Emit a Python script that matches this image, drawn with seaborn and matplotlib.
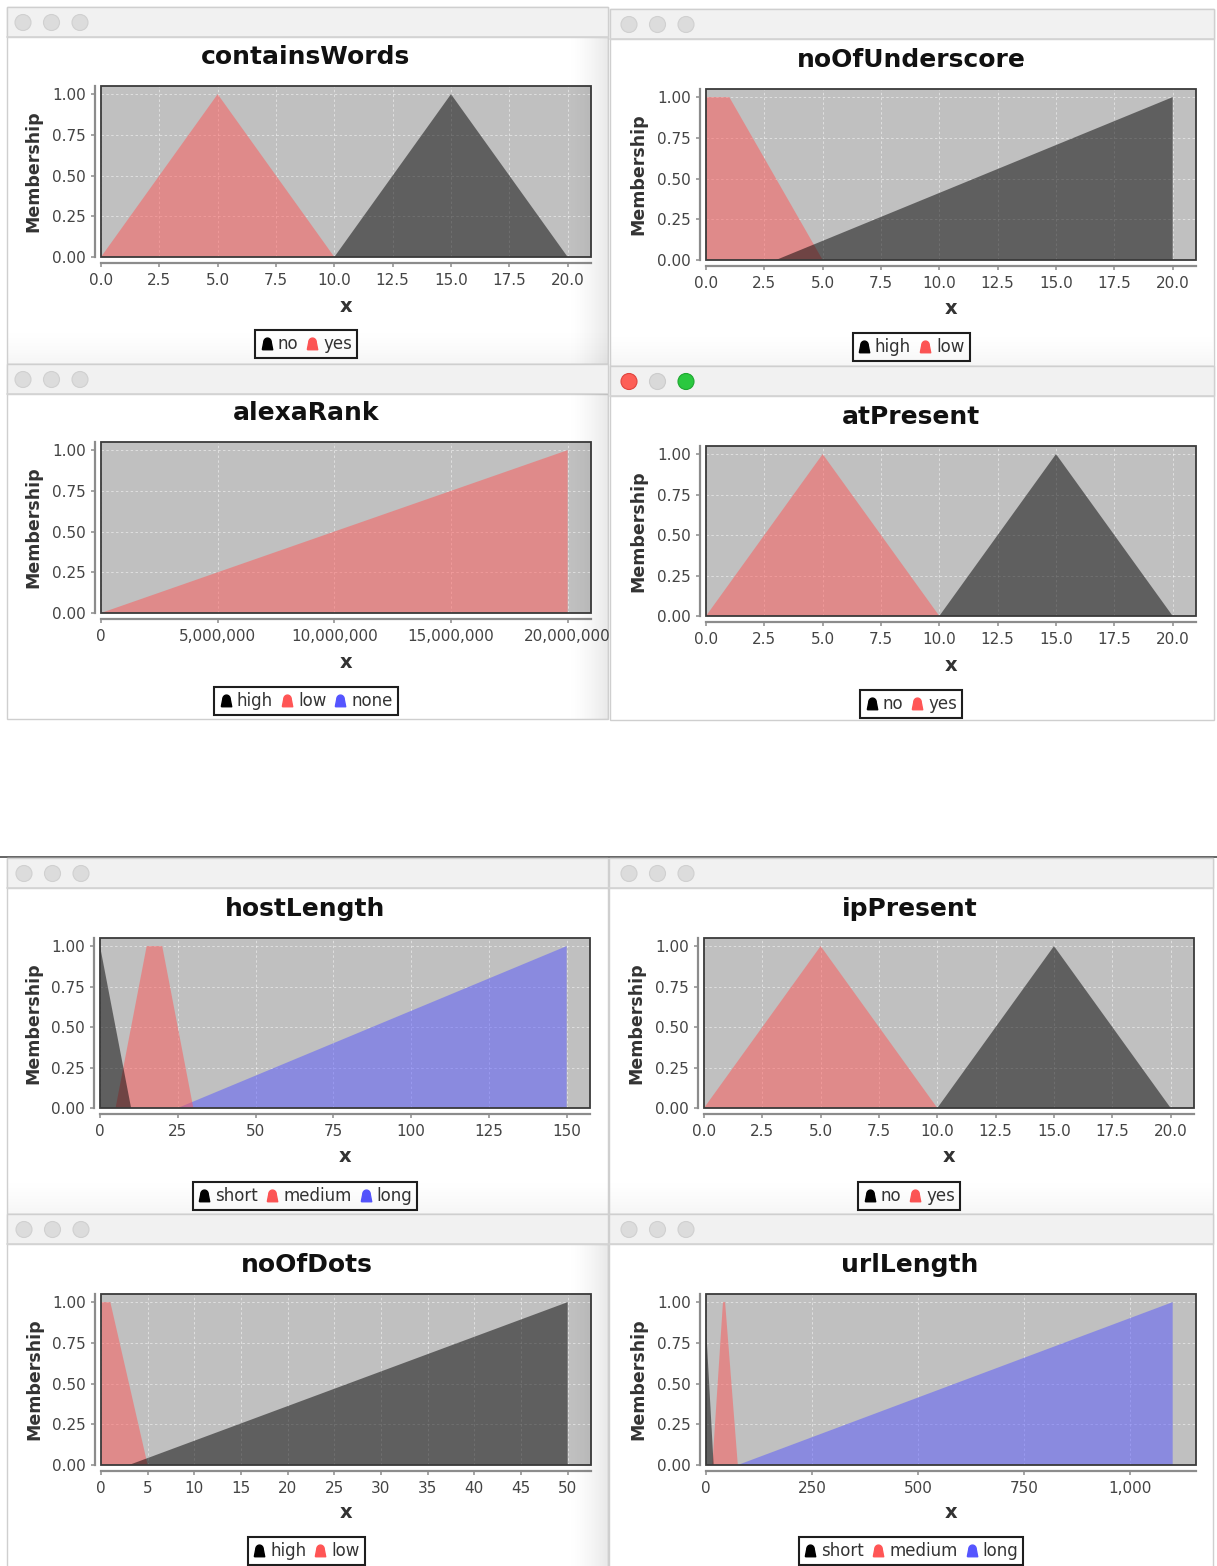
import numpy as np
import matplotlib
matplotlib.use("Agg")
import matplotlib.pyplot as plt
import seaborn as sns
from matplotlib.patches import Rectangle, Ellipse
from matplotlib.lines import Line2D

# ---------------- data ----------------
membership_ticks = [0.0, 0.25, 0.5, 0.75, 1.0]
membership_labels = ["0.00", "0.25", "0.50", "0.75", "1.00"]

containswords_terms = ["no", "yes"]
containswords_no_x = [10, 15, 20]
containswords_no_y = [0, 1, 0]
containswords_yes_x = [0, 5, 10]
containswords_yes_y = [0, 1, 0]
containswords_xticks = [0, 2.5, 5, 7.5, 10, 12.5, 15, 17.5, 20]
containswords_xlabels = ["0.0", "2.5", "5.0", "7.5", "10.0", "12.5", "15.0", "17.5", "20.0"]

underscore_terms = ["high", "low"]
underscore_high_x = [3, 20, 20]
underscore_high_y = [0, 1, 0]
underscore_low_x = [0, 0, 1, 5]
underscore_low_y = [0, 1, 1, 0]

alexarank_terms = ["high", "low", "none"]
alexarank_high_x = []
alexarank_high_y = []
alexarank_low_x = [0, 20000000, 20000000]
alexarank_low_y = [0, 1, 0]
alexarank_none_x = []
alexarank_none_y = []
alexarank_xticks = [0, 5000000, 10000000, 15000000, 20000000]
alexarank_xlabels = ["0", "5,000,000", "10,000,000", "15,000,000", "20,000,000"]

atpresent_terms = ["no", "yes"]
atpresent_no_x = [10, 15, 20]
atpresent_no_y = [0, 1, 0]
atpresent_yes_x = [0, 5, 10]
atpresent_yes_y = [0, 1, 0]

hostlength_terms = ["short", "medium", "long"]
hostlength_short_x = [0, 0, 10]
hostlength_short_y = [0, 1, 0]
hostlength_medium_x = [5, 15, 20, 30]
hostlength_medium_y = [0, 1, 1, 0]
hostlength_long_x = [25, 150, 150]
hostlength_long_y = [0, 1, 0]
hostlength_xticks = [0, 25, 50, 75, 100, 125, 150]
hostlength_xlabels = ["0", "25", "50", "75", "100", "125", "150"]

ippresent_terms = ["no", "yes"]
ippresent_no_x = [10, 15, 20]
ippresent_no_y = [0, 1, 0]
ippresent_yes_x = [0, 5, 10]
ippresent_yes_y = [0, 1, 0]

dots_terms = ["high", "low"]
dots_high_x = [3, 50, 50]
dots_high_y = [0, 1, 0]
dots_low_x = [0, 0, 1, 5]
dots_low_y = [0, 1, 1, 0]
dots_xticks = [0, 5, 10, 15, 20, 25, 30, 35, 40, 45, 50]
dots_xlabels = ["0", "5", "10", "15", "20", "25", "30", "35", "40", "45", "50"]

urllength_terms = ["short", "medium", "long"]
urllength_short_x = [0, 0, 18]
urllength_short_y = [0, 0.85, 0]
urllength_medium_x = [15, 40, 45, 75]
urllength_medium_y = [0, 1, 1, 0]
urllength_long_x = [75, 1100, 1100]
urllength_long_y = [0, 1, 0]
urllength_xticks = [0, 250, 500, 750, 1000]
urllength_xlabels = ["0", "250", "500", "750", "1,000"]

# ---------------- style ----------------
sns.set_theme(style="ticks")
plt.rcParams["font.family"] = ["DejaVu Sans"]

W, H = 1217, 1566
fig = plt.figure(figsize=(W / 100, H / 100), dpi=100)
fig.patch.set_facecolor("white")

TERM_COLORS = ["#000000", "#ff5555", "#5555ff"]
PLOT_BG = "#c0c0c0"


def fr(x0, y0, x1, y1):
    return [x0 / W, 1 - y1 / H, (x1 - x0) / W, (y1 - y0) / H]


def bell_marker():
    t = np.linspace(0, np.pi, 24)
    arc = [(0.36 * np.cos(a), 0.12 + 0.4 * np.sin(a)) for a in t]
    return [(-0.5, -0.6), (0.5, -0.6)] + arc + [(-0.5, -0.6)]


BELL = bell_marker()


def shade(box, orient, amax, z):
    x0, y0, x1, y1 = box
    sax = fig.add_axes(fr(x0, y0, x1, y1), zorder=z)
    sax.set_axis_off()
    n = 64
    a = np.linspace(0, 1, n) ** 1.6 * amax
    if orient == "h":
        img = np.zeros((1, n, 4))
        img[0, :, 3] = a
    else:
        img = np.zeros((n, 1, 4))
        img[:, 0, 3] = a
    sax.imshow(img, aspect="auto", extent=(0, 1, 0, 1), origin="upper",
               interpolation="bilinear")
    sax.set_xlim(0, 1)
    sax.set_ylim(0, 1)


def draw_window(z, box, cx0, focused):
    x0, y0, x1, y1 = box
    fig.patches.append(Rectangle((x0 / W, 1 - y1 / H), (x1 - x0) / W, (y1 - y0) / H,
                                 transform=fig.transFigure, facecolor="white",
                                 edgecolor="#cfcfcf", lw=1, zorder=z))
    tb = 30
    fig.patches.append(Rectangle((x0 / W, 1 - (y0 + tb) / H), (x1 - x0) / W, tb / H,
                                 transform=fig.transFigure, facecolor="#f1f1f1",
                                 edgecolor="#cfcfcf", lw=1, zorder=z + 0.1))
    fig.add_artist(Line2D([x0 / W, x1 / W], [1 - (y0 + tb) / H] * 2,
                          transform=fig.transFigure, color="#d4d4d4", lw=1.2,
                          zorder=z + 0.2))
    cy = y0 + 15.5
    if focused:
        cols = [("#fd5f57", "#e0443e"), ("#d9d9d9", "#cccccc"), ("#2ac83f", "#1ea730")]
    else:
        cols = [("#dcdcdc", "#d0d0d0")] * 3
    for i, (fc, ec) in enumerate(cols):
        cx = cx0 + 28.5 * i
        fig.patches.append(Ellipse((cx / W, 1 - cy / H), 16 / W, 16 / H,
                                   transform=fig.transFigure, facecolor=fc,
                                   edgecolor=ec, lw=0.8, zorder=z + 0.3))


def draw_chart(z, spec):
    px0, py0, px1, py1 = spec["plot"]
    ax = fig.add_axes(fr(px0, py0, px1, py1), zorder=z + 1)
    ax.set_facecolor(PLOT_BG)

    def to_ax(x, y):
        return ((x - px0) / (px1 - px0), (py1 - y) / (py1 - py0))

    n = len(spec["terms"])
    for i in reversed(range(n)):
        xs, ys = spec["xs"][i], spec["ys"][i]
        if len(xs):
            ax.fill(xs, ys, color=TERM_COLORS[i], alpha=0.5, lw=0, zorder=2)

    ax.set_xlim(0, spec["xmax"])
    ax.set_ylim(0, 1.05)
    ax.set_xticks(spec["xticks"])
    ax.set_xticklabels(spec["xlabels"])
    ax.set_yticks(membership_ticks)
    ax.set_yticklabels(membership_labels)
    ax.set_axisbelow(True)
    ax.grid(True, color="white", lw=0.7, ls=(0, (2.5, 2.5)), alpha=0.5)
    sns.despine(ax=ax, offset=4.3)
    for s in ["left", "bottom"]:
        ax.spines[s].set_color("#8c8c8c")
        ax.spines[s].set_linewidth(1.6)
    ax.tick_params(axis="both", colors="#8c8c8c", labelcolor="#444444",
                   labelsize=11, length=3, width=1.1, direction="out")
    ax.tick_params(axis="y", pad=3.5)
    ax.tick_params(axis="x", pad=4.5)
    ax.add_patch(Rectangle((0, 0), 1, 1, transform=ax.transAxes, fill=False,
                           edgecolor="#3a3a3a", lw=1.3, zorder=6, clip_on=False))

    tx, ty = to_ax(*spec["title_pos"])
    ax.text(tx, ty, spec["title"], transform=ax.transAxes, ha="center", va="center",
            fontsize=18, fontweight="bold", color="#111111")
    lx, ly = to_ax(*spec["xlabel_pos"])
    ax.text(lx, ly, "x", transform=ax.transAxes, ha="center", va="center",
            fontsize=14, fontweight="bold", color="#333333")
    yx, _ = to_ax(spec["ylabel_x"], 0)
    ax.text(yx, 0.5, "Membership", transform=ax.transAxes, ha="center", va="center",
            rotation=90, fontsize=12.5, fontweight="bold", color="#333333")

    handles = [Line2D([], [], marker=BELL, color=TERM_COLORS[i], linestyle="None",
                      markersize=9) for i in range(n)]
    gx, gy = to_ax(*spec["legend_pos"])
    leg = ax.legend(handles, spec["terms"], loc="center", bbox_to_anchor=(gx, gy),
                    ncol=n, frameon=True, fancybox=False, edgecolor="#1e1e1e",
                    facecolor="white", framealpha=1, fontsize=12, handlelength=0.8,
                    handletextpad=0.25, columnspacing=0.45, borderpad=0.3,
                    borderaxespad=0)
    leg.get_frame().set_linewidth(1.5)
    for t in leg.get_texts():
        t.set_color("#333333")
    return ax


specs = [
    dict(title="containsWords", box=(7, 7, 608, 364), cx0=23, focused=False,
         plot=(101, 86, 591, 257), title_pos=(306, 57), xlabel_pos=(346, 306),
         ylabel_x=33, legend_pos=(306, 344), terms=containswords_terms,
         xs=[containswords_no_x, containswords_yes_x],
         ys=[containswords_no_y, containswords_yes_y],
         xmax=21, xticks=containswords_xticks, xlabels=containswords_xlabels),
    dict(title="noOfUnderscore", box=(610, 9, 1214, 366), cx0=629, focused=False,
         plot=(706, 89, 1196, 260), title_pos=(911, 60), xlabel_pos=(951, 309),
         ylabel_x=638, legend_pos=(911, 347), terms=underscore_terms,
         xs=[underscore_high_x, underscore_low_x],
         ys=[underscore_high_y, underscore_low_y],
         xmax=21, xticks=containswords_xticks, xlabels=containswords_xlabels),
    dict(title="alexaRank", box=(7, 364, 608, 719), cx0=23, focused=False,
         plot=(101, 442, 591, 613), title_pos=(306, 413), xlabel_pos=(346, 662),
         ylabel_x=33, legend_pos=(306, 701), terms=alexarank_terms,
         xs=[alexarank_high_x, alexarank_low_x, alexarank_none_x],
         ys=[alexarank_high_y, alexarank_low_y, alexarank_none_y],
         xmax=21000000, xticks=alexarank_xticks, xlabels=alexarank_xlabels),
    dict(title="atPresent", box=(610, 366, 1214, 720), cx0=629, focused=True,
         plot=(706, 446, 1196, 616), title_pos=(911, 417), xlabel_pos=(951, 665),
         ylabel_x=638, legend_pos=(911, 704), terms=atpresent_terms,
         xs=[atpresent_no_x, atpresent_yes_x],
         ys=[atpresent_no_y, atpresent_yes_y],
         xmax=21, xticks=containswords_xticks, xlabels=containswords_xlabels),
    dict(title="hostLength", box=(7, 858, 608, 1214), cx0=24, focused=False,
         plot=(100, 938, 590, 1108), title_pos=(305, 909), xlabel_pos=(345, 1157),
         ylabel_x=33, legend_pos=(305, 1196), terms=hostlength_terms,
         xs=[hostlength_short_x, hostlength_medium_x, hostlength_long_x],
         ys=[hostlength_short_y, hostlength_medium_y, hostlength_long_y],
         xmax=157.5, xticks=hostlength_xticks, xlabels=hostlength_xlabels),
    dict(title="ipPresent", box=(609, 858, 1213, 1214), cx0=629, focused=False,
         plot=(704, 938, 1194, 1108), title_pos=(910, 909), xlabel_pos=(949, 1157),
         ylabel_x=636, legend_pos=(909, 1196), terms=ippresent_terms,
         xs=[ippresent_no_x, ippresent_yes_x],
         ys=[ippresent_no_y, ippresent_yes_y],
         xmax=21, xticks=containswords_xticks, xlabels=containswords_xlabels),
    dict(title="noOfDots", box=(7, 1214, 608, 1572), cx0=24, focused=False,
         plot=(101, 1294, 591, 1465), title_pos=(307, 1265), xlabel_pos=(346, 1513),
         ylabel_x=34, legend_pos=(306, 1551), terms=dots_terms,
         xs=[dots_high_x, dots_low_x], ys=[dots_high_y, dots_low_y],
         xmax=52.5, xticks=dots_xticks, xlabels=dots_xlabels),
    dict(title="urlLength", box=(609, 1214, 1213, 1572), cx0=629, focused=False,
         plot=(706, 1294, 1196, 1465), title_pos=(910, 1265), xlabel_pos=(951, 1513),
         ylabel_x=638, legend_pos=(911, 1551), terms=urllength_terms,
         xs=[urllength_short_x, urllength_medium_x, urllength_long_x],
         ys=[urllength_short_y, urllength_medium_y, urllength_long_y],
         xmax=1155, xticks=urllength_xticks, xlabels=urllength_xlabels),
]

for k, spec in enumerate(specs):
    z = 10 * k
    draw_window(z, spec["box"], spec["cx0"], spec["focused"])
    draw_chart(z, spec)

# window shadows cast by overlapping windows
shade((8, 324, 608, 364), "v", 0.04, 5)
shade((565, 38, 608, 364), "h", 0.09, 5.5)
shade((611, 328, 1213, 366), "v", 0.04, 15)
shade((565, 394, 608, 719), "h", 0.09, 25)
shade((8, 1174, 608, 1214), "v", 0.04, 45)
shade((610, 1174, 1213, 1214), "v", 0.04, 55)
shade((565, 1245, 608, 1566), "h", 0.09, 65)

# top edge of the second screenshot
fig.add_artist(Line2D([0, 1], [1 - 857 / H] * 2, transform=fig.transFigure,
                      color="#4a4a4a", lw=1.2, zorder=39))

fig.savefig("out.png", dpi=100, facecolor="white")
